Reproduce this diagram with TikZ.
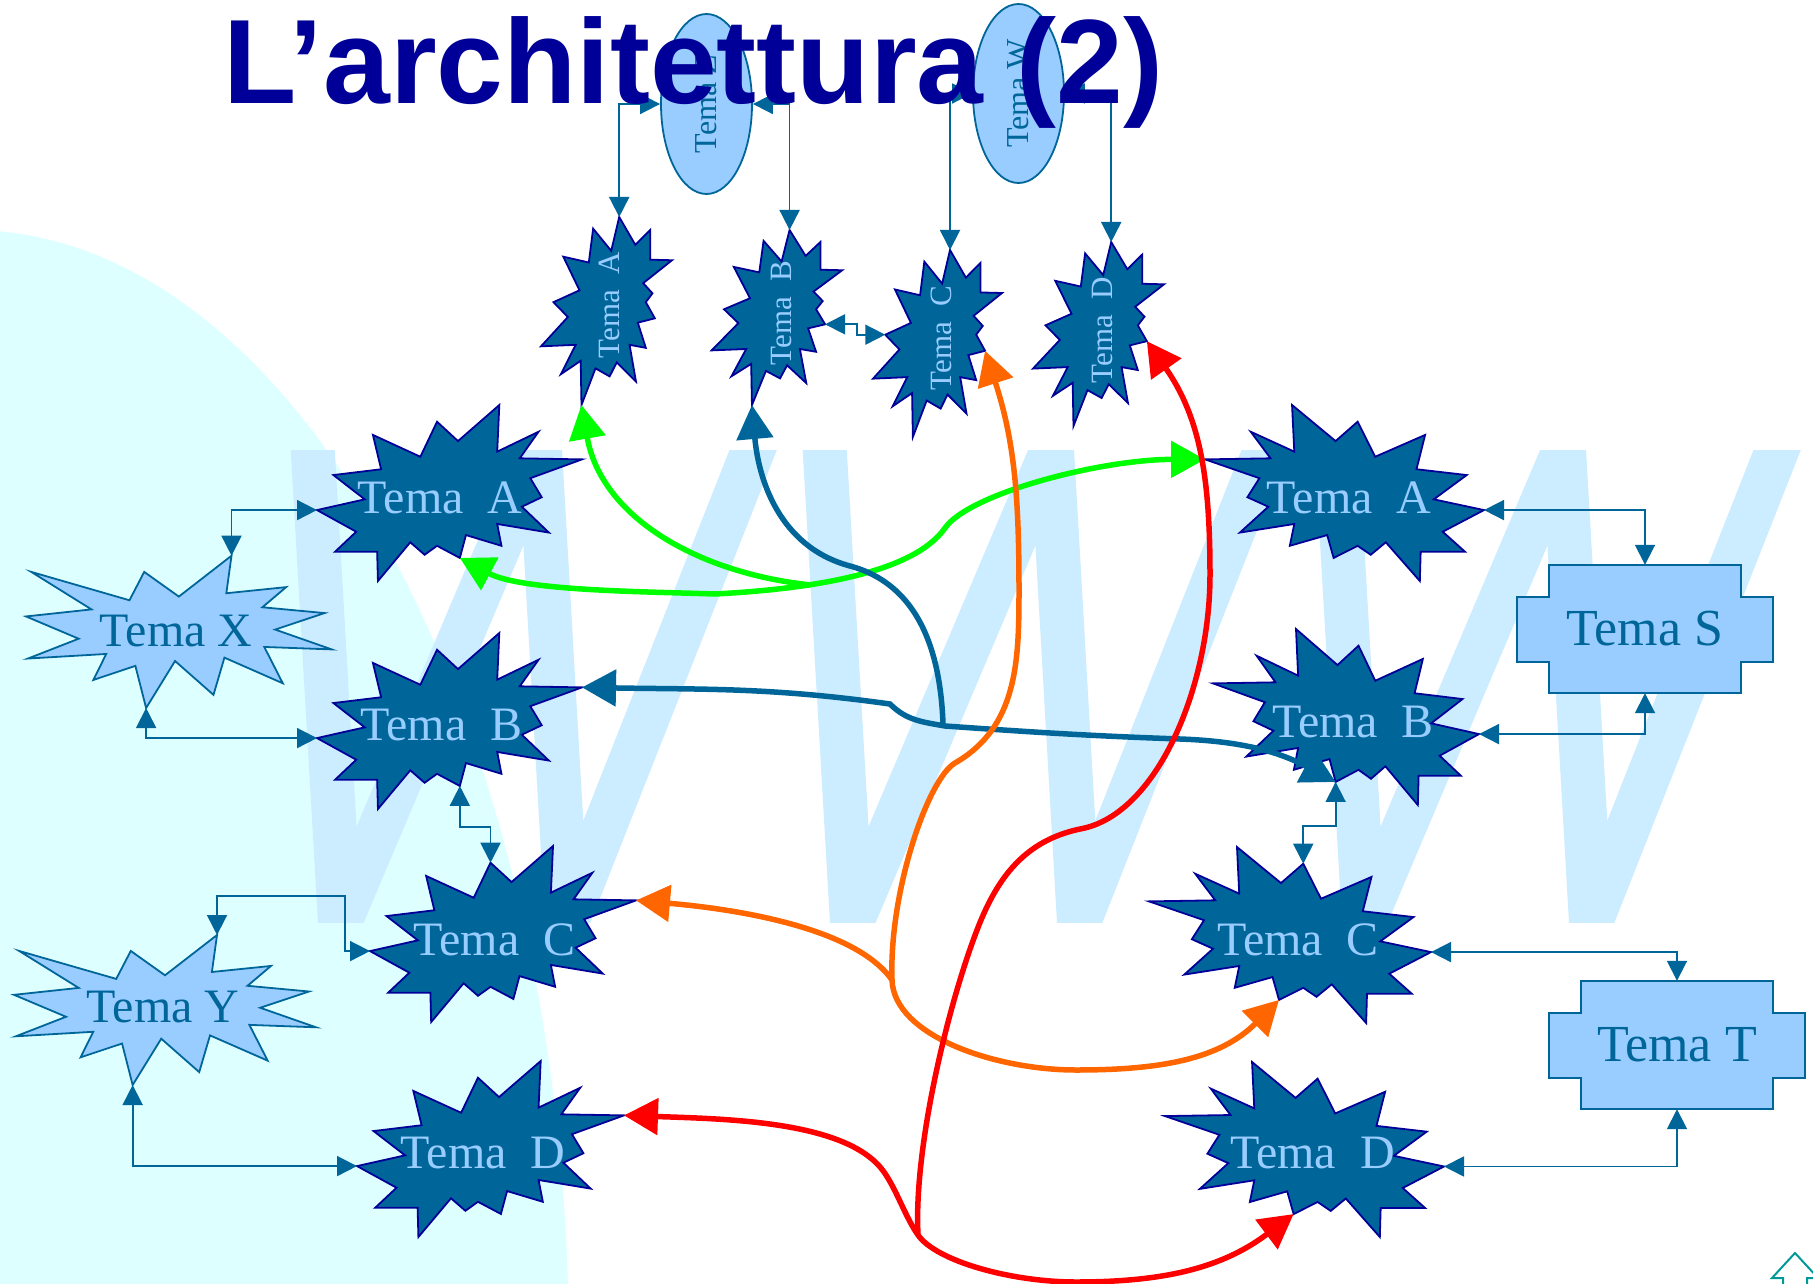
\documentclass[tikz,border=0pt]{standalone}
\usepackage{fontspec}
\setmainfont{Liberation Serif}
\newfontfamily\titlesans{Liberation Sans}
\usetikzlibrary{arrows.meta,shapes.geometric,calc}
\definecolor{darkfill}{HTML}{006699}
\definecolor{navy}{HTML}{000099}
\definecolor{lightb}{HTML}{99CCFF}
\definecolor{bgcyan}{HTML}{DDFFFF}
\definecolor{wmark}{HTML}{CCECFF}
\definecolor{gline}{HTML}{00FF00}
\definecolor{oline}{HTML}{FF6600}
\definecolor{rline}{HTML}{FF0000}
\definecolor{navteal}{HTML}{009999}
\newcommand{\fsz}[1]{\fontsize{#1pt}{#1pt}\selectfont}
% dark explosion star, normalised to the unit box
\newcommand{\lstarpath}[1]{(0.688,0) coordinate (#1-n) -- (0.680,0.265) -- (0.836,0.152) -- (0.765,0.303) -- (1,0.309) coordinate (#1-e) -- (0.805,0.416) -- (0.848,0.524) -- (0.773,0.578) -- (0.875,0.725) -- (0.680,0.676) -- (0.696,0.800) -- (0.562,0.739) -- (0.539,0.869) coordinate (#1-g) -- (0.453,0.800) -- (0.406,0.851) -- (0.352,0.780) -- (0.230,1) coordinate (#1-s) -- (0.227,0.834) -- (0.068,0.834) -- (0.148,0.720) -- (0,0.597) coordinate (#1-w) -- (0.180,0.536) -- (0.062,0.398) -- (0.242,0.365) -- (0.211,0.170) -- (0.390,0.294) -- (0.453,0.095) coordinate (#1-t) -- (0.532,0.205) -- cycle}
% same star, transposed (for the upright small ones)
\newcommand{\tstarpath}[1]{(0,0.688) coordinate (#1-n) -- (0.265,0.680) -- (0.152,0.836) -- (0.303,0.765) -- (0.309,1) coordinate (#1-e) -- (0.416,0.805) -- (0.524,0.848) -- (0.578,0.773) -- (0.725,0.875) -- (0.676,0.680) -- (0.800,0.696) -- (0.739,0.562) -- (0.869,0.539) coordinate (#1-g) -- (0.800,0.453) -- (0.851,0.406) -- (0.780,0.352) -- (1,0.230) coordinate (#1-s) -- (0.834,0.227) -- (0.834,0.068) -- (0.720,0.148) -- (0.597,0) coordinate (#1-w) -- (0.536,0.180) -- (0.398,0.062) -- (0.365,0.242) -- (0.170,0.211) -- (0.294,0.390) -- (0.095,0.453) coordinate (#1-t) -- (0.205,0.532) -- cycle}
% light explosion (Tema X / Tema Y)
\newcommand{\sealpath}[1]{(0.5,0.2685) -- (0.6723,0) coordinate (#1-n) -- (0.6553,0.2465) -- (0.8509,0.2063) -- (0.7733,0.3386) -- (0.9767,0.3767) -- (0.8151,0.4850) -- (1,0.6153) -- (0.7795,0.5992) -- (0.8400,0.8377) -- (0.6491,0.6693) -- (0.6133,0.9138) -- (0.4876,0.6914) -- (0.3929,1) coordinate (#1-s) -- (0.3578,0.7235) -- (0.2205,0.8156) -- (0.2624,0.6452) -- (0.00625,0.6753) -- (0.1723,0.5451) -- (0,0.3988) -- (0.2142,0.3526) -- (0.0171,0.1063) -- (0.3385,0.2926) -- (0.3867,0.1063) -- cycle}
\begin{document}
\begin{tikzpicture}[x=1pt,y=-1pt,
  dstar/.style={fill=darkfill, draw=navy, line width=1.8pt, line join=miter},
  lstar/.style={fill=lightb, draw=darkfill, line width=1.8pt, line join=miter},
  stext/.style={anchor=base, text=lightb, font={\fsz{48}}, inner sep=0pt},
  ttext/.style={rotate=90, text=lightb, font={\fsz{31}}, inner sep=0pt},
  xytext/.style={anchor=base, text=darkfill, font={\fsz{48}}, inner sep=0pt},
  plusbox/.style={fill=lightb, draw=darkfill, line width=1.8pt},
  ovalnode/.style={ellipse, fill=lightb, draw=darkfill, line width=1.8pt, inner sep=0pt, rotate=90, text=darkfill, font={\fsz{32}}},
  conn/.style={draw=darkfill, line width=1.8pt, >={Triangle[length=20pt,width=20pt]}, <->},
  bigline/.style={line width=5.5pt, >={Triangle[length=34pt,width=36pt]}}
]
\useasboundingbox (0,0) rectangle (1813,1284);
\fill[white] (0,0) rectangle (1813,1284);
\begin{scope}
  \clip (0,0) rectangle (1813,1284);
  \fill[bgcyan] (-30,1350) ellipse [x radius=599, y radius=1120];
\end{scope}
% watermark WWW
\begin{scope}
  \clip (0,450) rectangle (1813,922);
  \foreach \c in {313,825,1337} {
    \draw[wmark, line width=44pt, line join=miter, miter limit=20]
      (\c-2,420) -- (\c+27,922) -- (\c+227,450) -- (\c+254,922) -- (\c+452,420);
  }
\end{scope}

% top ellipses
\node[ovalnode, minimum width=180pt, minimum height=91pt] (Z) at (706.5,104) {Tema Z};
\node[ovalnode, minimum width=179pt, minimum height=91pt] (W) at (1018.5,93.5) {Tema W};

% small upright stars
\draw[dstar, shift={(541,217)}, xscale=131, yscale=188] \tstarpath{TA};
\draw[dstar, shift={(711.6,230)}, xscale=130.6, yscale=175] \tstarpath{TB};
\draw[dstar, shift={(873,250)}, xscale=129, yscale=187] \tstarpath{TC};
\draw[dstar, shift={(1033,242)}, xscale=131, yscale=184] \tstarpath{TD};
\node[ttext] (TAt) at (609,305) {Tema~~A};
\node[ttext] (TBt) at (781,313) {Tema~~B};
\node[ttext] (TCt) at (941,338) {Tema~~C};
\node[ttext] (TDt) at (1102.5,330) {Tema~~D};

% left column
\draw[dstar, shift={(317,405)}, xscale=265, yscale=176] \lstarpath{LA};
\draw[dstar, shift={(317,633)}, xscale=265, yscale=176] \lstarpath{LB};
\draw[dstar, shift={(370,846)}, xscale=266, yscale=176] \lstarpath{LC};
\draw[dstar, shift={(357,1061)}, xscale=267, yscale=176] \lstarpath{LD};
\node[stext] (LAt) at (440,513.3) {Tema~~A};
\node[stext] (LBt) at (441.5,740.6) {Tema~~B};
\node[stext] (LCt) at (494.4,955) {Tema~~C};
\node[stext] (LDt) at (483,1168) {Tema~~D};

% right column (mirrored)
\draw[dstar, shift={(1484,405)}, xscale=-279, yscale=176] \lstarpath{RA};
\draw[dstar, shift={(1479,629)}, xscale=-266, yscale=176] \lstarpath{RB};
\draw[dstar, shift={(1431,847)}, xscale=-282, yscale=176] \lstarpath{RC};
\draw[dstar, shift={(1444,1062)}, xscale=-279, yscale=175] \lstarpath{RD};
\node[stext] (RAt) at (1349,513.3) {Tema~~A};
\node[stext] (RBt) at (1353,737.3) {Tema~~B};
\node[stext] (RCt) at (1298,955) {Tema~~C};
\node[stext] (RDt) at (1312.6,1168.3) {Tema~~D};

% Tema X / Tema Y
\draw[lstar, shift={(26,555.7)}, xscale=305.7, yscale=152.3] \sealpath{X};
\draw[lstar, shift={(14,935)}, xscale=302, yscale=150] \sealpath{Y};
\node[xytext] (Xt) at (176,646) {Tema X};
\node[xytext] (Yt) at (163,1022.7) {Tema Y};

% Tema S / Tema T
\coordinate (Sc) at (1645,629);
\coordinate (Tc) at (1677,1045);
\filldraw[plusbox] (Sc) ++(-96,-64) -- ++(192,0) -- ++(0,32) -- ++(32,0) -- ++(0,65) -- ++(-32,0) -- ++(0,31) -- ++(-192,0) -- ++(0,-31) -- ++(-32,0) -- ++(0,-65) -- ++(32,0) -- cycle;
\filldraw[plusbox] (Tc) ++(-96,-64) -- ++(192,0) -- ++(0,32) -- ++(32,0) -- ++(0,65) -- ++(-32,0) -- ++(0,31) -- ++(-192,0) -- ++(0,-31) -- ++(-32,0) -- ++(0,-65) -- ++(32,0) -- cycle;
\node[minimum width=192pt, minimum height=128pt, inner sep=0pt, text=darkfill, font={\fsz{52}}] (S) at (Sc) {Tema S};
\node[minimum width=192pt, minimum height=128pt, inner sep=0pt, text=darkfill, font={\fsz{52}}] (T) at (Tc) {Tema T};

% thin elbow connectors
\draw[conn] (LA-w) -| (X-n);
\draw[conn] (LB-w) -| (X-s);
\draw[conn] (LB-g) -- ++(0,41) -| (LC-t);
\draw[conn] (Y-n) -- ++(0,-39) -| ($(LC-w)+(-25,0)$) -- (LC-w);
\draw[conn] (Y-s) |- (LD-w);
\draw[conn] (RA-w) -| (S.north);
\draw[conn] (RB-w) -| (S.south);
\draw[conn] (RB-g) -- ++(0,44) -| (RC-t);
\draw[conn] (RC-w) -| (T.north);
\draw[conn] (RD-w) -| (T.south);
\draw[conn] (Z.north) -| (TA-w);
\draw[conn] (Z.south) -| (TB-w);
\draw[conn] (W.north) -| (TC-w);
\draw[conn] (W.south) -| (TD-w);
\draw[conn] (TB-g) -- ++(32,0) |- (TC-t);

% thick coloured connectors
\coordinate (gj) at (811,585);
\coordinate (bj) at (943,724);
\coordinate (oj) at (892,980);
\coordinate (rj) at (918,1235);
\draw[bigline, gline, <->] (LA-g) to[out=-28, in=178, looseness=0.7] (715,594)
  to[out=3, in=-125, in looseness=0.6] (945,528)
  to[out=55, in=180, out looseness=0.4] (RA-e);
\draw[bigline, gline, <-] (TA-e) to[out=-80, in=174] (gj);

\draw[bigline, darkfill, <->] (LB-e) to[out=-1, in=172] (890,704)
  to[out=-45, in=170] (945,726) to[out=-4, in=178] (1180,739)
  to[out=-2, in=152] (RB-g);
\draw[bigline, darkfill, <-] (TB-e) to[out=-85, in=165] (850,566) to[out=-15, in=92] (bj);

\draw[bigline, oline, <->] (LC-e) to[out=-5, in=125, in looseness=0.6] (oj)
  to[out=-88, in=180, out looseness=0.7] (1076,1070) to[out=0, in=-135] (RC-g);
\draw[bigline, oline, <-] (TC-g) to[out=-72, in=90] (1019,590)
  to[out=-90, in=30] (955,763) to[out=-150, in=92, out looseness=0.35] (oj);

\draw[bigline, rline, <->] (LD-e) to[out=-2, in=125, in looseness=0.6] (884,1172)
  to[out=-55, in=125, looseness=0.8] (rj) to[out=-55, in=180, out looseness=0.5] (1076,1282)
  to[out=0, in=-143] (RD-g);
\draw[bigline, rline, <-] (TD-g) to[out=-55, in=90] (1210,575)
  to[out=-90, in=10, in looseness=0.7] (1080,829)
  to[out=-168, in=69] (977,930) to[out=-111, in=93, looseness=0.7] (rj);

% navigation arrow, bottom right
\draw[navteal, line width=2pt] (1795,1253) -- (1772,1278) -- (1783,1278) -- (1783,1300) -- (1807,1300) -- (1807,1278) -- (1818,1278) -- cycle;

% title
\node[anchor=base west, inner sep=0pt, text=navy, font={\titlesans\bfseries\fsz{120}}] (title) at (223,104) {L’architettura (2)};
\end{tikzpicture}
\end{document}
